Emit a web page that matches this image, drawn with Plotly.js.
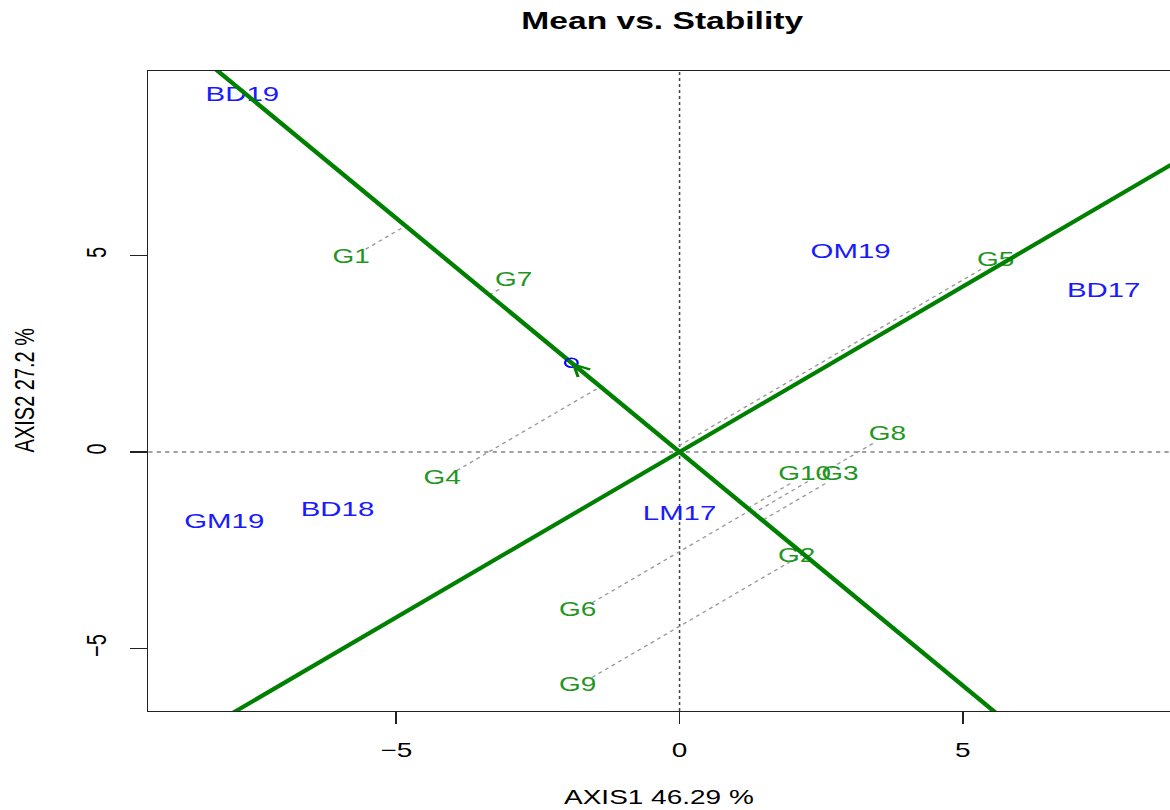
<!DOCTYPE html>
<html>
<head>
<meta charset="utf-8">
<script src="https://cdn.plot.ly/plotly-3.0.1.min.js"></script>
<style>
html, body { margin: 0; padding: 0; background: #ffffff; overflow: hidden; }
#wrap { width: 1170px; height: 810px; overflow: hidden; }
#plot { width: 836px; height: 810px; transform: scaleX(1.3995); transform-origin: 0 0; }
</style>
</head>
<body>
<div id="wrap"><div id="plot"></div></div>
<script>
// ---- data ----
const chartTitle = 'Mean vs. Stability';
const xTitle = 'AXIS1 46.29 %';
const yTitle = 'AXIS2 27.2 %';

const genotypes = ['G1', 'G2', 'G3', 'G4', 'G5', 'G6', 'G7', 'G8', 'G9', 'G10'];
const genoX = [-5.80, 2.07, 2.83, -4.19, 5.58, -1.80, -2.93, 3.67, -1.80, 2.21];
const genoY = [4.94, -2.67, -0.59, -0.69, 4.86, -4.05, 4.35, 0.43, -5.95, -0.59];

const environments = ['BD17', 'BD18', 'BD19', 'GM19', 'LM17', 'OM19'];
const envX = [7.49, -6.04, -7.72, -8.04, 0.00, 3.02];
const envY = [4.07, -1.50, 9.06, -1.81, -1.60, 5.06];

const avgEnv = [-1.91, 2.27];

const tickValues = [-5, 0, 5];
const tickLabels = ['\u22125', '0', '5'];
const xRange = [-9.38, 8.66];
const yRange = [-6.59, 9.69];

// ---- layout constants ----
const FONT = 'Liberation Sans, Arial, Helvetica, sans-serif';
const W = 836, H = 810;
const M = { l: 106, r: 0, t: 71, b: 99 };
const labelSize = 20;
const envSize = 21;
const lineGreen = '#008000';
const labelGreen = '#1f961f';
const envBlue = '#1a1aff';

// ---- geometry derived from the data ----
const norm = Math.hypot(avgEnv[0], avgEnv[1]);
const u = [avgEnv[0] / norm, avgEnv[1] / norm];      // mean axis direction
const v = [u[1], -u[0]];                              // perpendicular axis
const L = 40;

const plotW = W - M.l - M.r, plotH = H - M.t - M.b;
const xScale = plotW / (xRange[1] - xRange[0]);
const yScale = plotH / (yRange[1] - yRange[0]);

const projX = [], projY = [];
genotypes.forEach((g, i) => {
  const gx = genoX[i], gy = genoY[i];
  const d = gx * u[0] + gy * u[1];
  const px = d * u[0], py = d * u[1];
  const dx = px - gx, dy = py - gy;
  const hw = (g.length * 0.62 * labelSize / 2 + 1) / xScale;
  const hh = 8.5 / yScale;
  const tx = Math.abs(dx) > 1e-9 ? hw / Math.abs(dx) : Infinity;
  const ty = Math.abs(dy) > 1e-9 ? hh / Math.abs(dy) : Infinity;
  const t = Math.min(tx, ty);
  if (t < 1) {
    projX.push(gx + t * dx, px, null);
    projY.push(gy + t * dy, py, null);
  }
});

const traces = [
  {
    x: projX, y: projY, mode: 'lines', type: 'scatter',
    line: { color: '#999999', width: 1.2, dash: 'dot' },
    hoverinfo: 'skip', showlegend: false
  },
  {
    x: genoX, y: genoY, text: genotypes, mode: 'text', type: 'scatter',
    textposition: 'middle center',
    textfont: { family: FONT, size: labelSize, color: labelGreen },
    showlegend: false, cliponaxis: false
  },
  {
    x: envX, y: envY, text: environments, mode: 'text', type: 'scatter',
    textposition: 'middle center',
    textfont: { family: FONT, size: envSize, color: envBlue },
    showlegend: false, cliponaxis: false
  },
  {
    x: [-L * u[0], L * u[0]], y: [-L * u[1], L * u[1]],
    mode: 'lines', type: 'scatter',
    line: { color: lineGreen, width: 3.7 },
    hoverinfo: 'skip', showlegend: false
  },
  {
    x: [-L * v[0], L * v[0]], y: [-L * v[1], L * v[1]],
    mode: 'lines', type: 'scatter',
    line: { color: lineGreen, width: 3.7 },
    hoverinfo: 'skip', showlegend: false
  },
  {
    x: [avgEnv[0]], y: [avgEnv[1]], mode: 'markers', type: 'scatter',
    marker: { symbol: 'circle-open', size: 9, color: '#0000ff', line: { width: 1.6, color: '#0000ff' } },
    showlegend: false
  }
];

const layout = {
  width: W, height: H,
  margin: M,
  paper_bgcolor: '#ffffff', plot_bgcolor: '#ffffff',
  showlegend: false,
  font: { family: FONT, color: '#000000' },
  title: {
    text: '<b>' + chartTitle + '</b>',
    font: { family: FONT, size: 24, color: '#000000' },
    xref: 'paper', x: 0.503, xanchor: 'center',
    yref: 'container', y: 0.975, yanchor: 'middle'
  },
  xaxis: {
    range: xRange, tickvals: tickValues, ticktext: tickLabels,
    showgrid: false, zeroline: false,
    showline: true, mirror: true, linecolor: '#222222', linewidth: 1.3,
    ticks: 'outside', ticklen: 12, tickwidth: 1.3, tickcolor: '#222222',
    tickfont: { family: FONT, size: 20, color: '#000000' },
    ticklabelstandoff: 9
  },
  yaxis: {
    range: yRange, tickvals: tickValues, ticktext: tickLabels,
    showgrid: false, zeroline: false,
    showline: true, linecolor: '#222222', linewidth: 1.3,
    ticks: 'outside', ticklen: 12, tickwidth: 1.3, tickcolor: '#222222',
    tickangle: -90,
    tickfont: { family: FONT, size: 20, color: '#000000' },
    ticklabelstandoff: 9
  },
  shapes: [
    { type: 'line', xref: 'x', yref: 'paper', x0: 0, x1: 0, y0: 0, y1: 1,
      line: { color: '#444444', width: 1.1, dash: 'dot' }, layer: 'below' },
    { type: 'line', xref: 'paper', yref: 'y', x0: 0, x1: 1, y0: 0, y1: 0,
      line: { color: '#444444', width: 1.1, dash: 'dot' }, layer: 'below' }
  ],
  annotations: [
    {
      xref: 'x', yref: 'y', axref: 'x', ayref: 'y',
      x: avgEnv[0], y: avgEnv[1], ax: avgEnv[0] * 0.55, ay: avgEnv[1] * 0.55,
      text: '', showarrow: true, arrowhead: 5, arrowsize: 1.5, arrowwidth: 1.5,
      arrowcolor: lineGreen
    },
    {
      xref: 'paper', yref: 'paper', x: 0.5, y: -0.134,
      xanchor: 'center', yanchor: 'middle', showarrow: false,
      text: xTitle, font: { family: FONT, size: 20, color: '#000000' }
    },
    {
      xref: 'paper', yref: 'paper', x: -0.1213, y: 0.5016,
      xanchor: 'center', yanchor: 'middle', showarrow: false, textangle: -90,
      text: yTitle, font: { family: FONT, size: 20, color: '#000000' }
    }
  ]
};

Plotly.newPlot('plot', traces, layout, { staticPlot: true, displayModeBar: false });
</script>
</body>
</html>
